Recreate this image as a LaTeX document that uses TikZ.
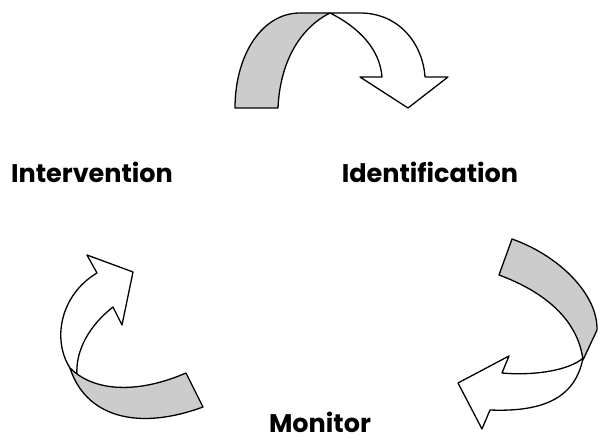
\documentclass[tikz,border=0pt]{standalone}
\usepackage{fontspec}
\newfontfamily\labelfont[Ligatures=NoCommon]{Poppins}
\definecolor{ribbongray}{RGB}{204,204,204}

\begin{document}
\begin{tikzpicture}[x=1pt, y=-1pt,
  front/.style={draw, fill=white, line width=1.3pt, line join=round},
  back/.style={draw, fill=ribbongray, line width=1.3pt, line join=round},
  stage/.style={font=\labelfont\bfseries\fontsize{25.5}{30}\selectfont, inner sep=0pt},
]
\useasboundingbox (0,0) rectangle (614,443);

% Stage labels
\node[stage] (interv) at (92,172) {Intervention};
\node[stage] (ident) at (430,172) {Identification};
\node[stage] (monit) at (320,422) {Monitor};

% Top arrow
\draw[front] (330,13) -- (360,13) .. controls (400,13) and (423,45) .. (425,77)
  -- (448,77) -- (408,108) -- (360,77) -- (382,77)
  .. controls (380,50) and (360,28) .. (330,13) -- cycle;
\draw[back] (235,108) .. controls (235,55) and (262,13) .. (300,13) -- (330,13)
  .. controls (300,28) and (280,62) .. (278,108) -- cycle;

% Right arrow
\draw[front] (583,358) .. controls (575,400) and (540,412) .. (490,410)
  -- (482,429) -- (458,383) -- (509,356) -- (502,373)
  .. controls (535,376) and (570,370) .. (583,358) -- cycle;
\draw[back] (512,239) .. controls (560,256) and (598,295) .. (597,330) -- (583,360)
  .. controls (578,320) and (545,292) .. (499,275) -- cycle;

% Left arrow
\draw[front] (70,368) .. controls (52,340) and (60,295) .. (97,273)
  -- (87,255) -- (133,272) -- (122,325) -- (113,307)
  .. controls (90,325) and (75,350) .. (77,376) -- cycle;
\draw[back] (70,368) .. controls (85,415) and (135,432) .. (203,407) -- (186,373)
  .. controls (140,393) and (95,393) .. (70,368) -- cycle;
\end{tikzpicture}
\end{document}
